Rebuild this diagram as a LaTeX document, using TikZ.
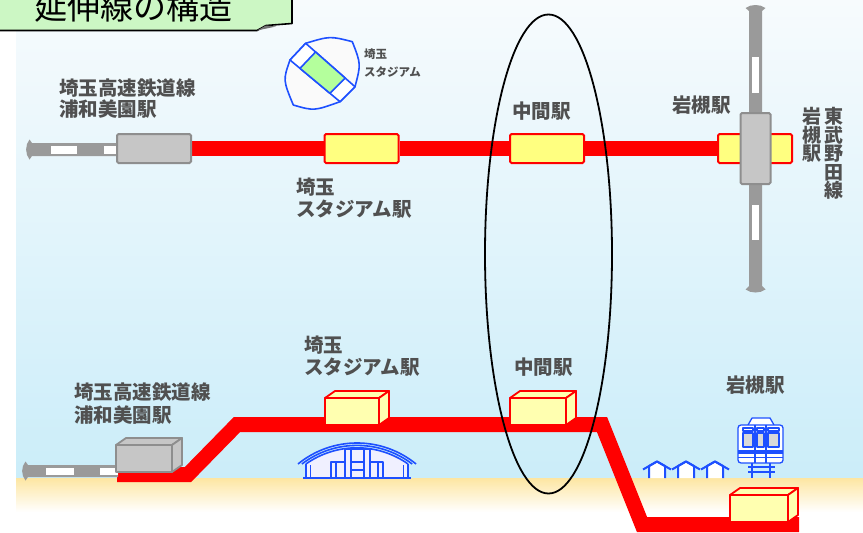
\documentclass[tikz,border=0pt]{standalone}
\usepackage{fontspec}
\newfontfamily\jp{Noto Sans CJK JP}
\usetikzlibrary{calc}
\definecolor{lbl}{HTML}{505050}
\definecolor{railred}{HTML}{FF0000}
\definecolor{sta}{HTML}{FFFF80}
\definecolor{stb}{HTML}{FFFFB0}
\definecolor{trk}{HTML}{9A9A9A}
\definecolor{gbox}{HTML}{C6C6C6}
\definecolor{gedge}{HTML}{8E8E8E}
\definecolor{icon}{HTML}{1E50FF}
\definecolor{skytop}{HTML}{F7FBFD}
\definecolor{skybot}{HTML}{CBEDF9}
\definecolor{sand}{HTML}{FDE6A2}
\definecolor{titlefill}{HTML}{CCF7C4}
\definecolor{field}{HTML}{B4FF9C}
\pgfdeclarelayer{back}
\pgfdeclarelayer{rails}
\pgfsetlayers{back,rails,main}

% an isometric-looking block: style, front-left x, front-top y, front-right x, front-bottom y
\newcommand\blockshape[5]{%
  \filldraw[#1] (#2,#3) rectangle (#4,#5);
  \filldraw[#1] (#2,#3) -- (#2+10,#3-7) -- (#4+10,#3-7) -- (#4,#3) -- cycle;
  \filldraw[#1] (#4,#3) -- (#4+10,#3-7) -- (#4+10,#5-7) -- (#4,#5) -- cycle;}

\begin{document}
\begin{tikzpicture}[x=1pt,y=-1pt,
  lbl/.style={font=\jp\bfseries\fontsize{19.5}{19.5}\selectfont, text=lbl, anchor=base west, inner sep=0pt},
  tinylbl/.style={font=\jp\bfseries\fontsize{11.5}{11.5}\selectfont, text=lbl, anchor=base west, inner sep=0pt},
  vlbl/.style={font=\jp\bfseries\fontsize{19}{18.6}\selectfont, text=lbl, anchor=north, align=center, inner sep=0pt},
  flatsta/.style={draw=railred, fill=sta, line width=2pt, rounded corners=1.5pt, minimum width=74pt, minimum height=29pt, inner sep=0pt},
  flatgray/.style={draw=gedge, fill=gbox, line width=2pt, rounded corners=1.5pt, inner sep=0pt},
  rail/.style={draw=railred, line width=15pt, line join=miter},
  yblock/.style={draw=railred, fill=stb, line width=1.8pt, line join=round},
  gblock/.style={draw=gedge, fill=gbox, line width=1.8pt, line join=round},
  ico/.style={draw=icon, line width=1.6pt, line join=round}]
\useasboundingbox (0,0) rectangle (863,533);

% ---------- sky and ground ----------
\begin{pgfonlayer}{back}
  \fill[white] (0,0) rectangle (863,533);
  \shade[top color=skytop, bottom color=skybot] (16,0) rectangle (863,478);
  \shade[top color=sand, middle color=sand!45!white, bottom color=white] (16,478) rectangle (863,512);
\end{pgfonlayer}

% ---------- title ----------
\filldraw[fill=titlefill, draw=black, line width=1.6pt, line join=round]
  (-5,-5) -- (292,-5) -- (292,23.5) -- (266,25.5) -- (257,30.5) -- (-5,30.5) -- cycle;
\fill[black!55] (257,30.5) -- (266,25.5) -- (276,26.5) -- cycle;
\node[font=\jp\fontsize{33}{33}\selectfont, anchor=base west, inner sep=0pt] (title) at (34,19.5) {延伸線の構造};

% ---------- upper plan ----------
% Saitama Railway track
\fill[trk] (118,143) -- (32,143) -- (29.5,139.5) .. controls (25,145) and (25,154) .. (29.5,159.5) -- (32,156) -- (118,156) -- cycle;
\fill[white] (51,145.5) rectangle (77,153.5);
\fill[white] (104,145.5) rectangle (118,153.5);
% Tobu Noda line track
\fill[trk] (749,120) -- (749,11) -- (745.5,8) .. controls (751,4) and (760,4) .. (765.5,8) -- (762,11)
  -- (762,286) -- (765.5,289.5) .. controls (760,293.5) and (751,293.5) .. (745.5,289.5) -- (749,286) -- cycle;
\fill[white] (752,57) rectangle (759,93);
\fill[white] (752,205) rectangle (759,240);

\node[flatgray, minimum width=74pt, minimum height=29pt] (misonoU) at (154,148.5) {};
\node[flatsta] (stadU) at (361.5,148.5) {};
\node[flatsta] (midU) at (547,148.5) {};
\node[flatsta] (iwaU) at (755,148.5) {};
\node[flatgray, minimum width=30pt, minimum height=71pt] (tobuU) at (755.5,148.5) {};

\begin{pgfonlayer}{rails}
  \draw[rail] (misonoU.east) -- (stadU.west);
  \draw[rail] (stadU.east) -- (midU.west);
  \draw[rail] (midU.east) -- (iwaU.west);
\end{pgfonlayer}

\node[lbl] (saiU1) at (59,95) {埼玉高速鉄道線};
\node[lbl] (saiU2) at (59,116) {浦和美園駅};
\node[lbl] (stadUl1) at (296,194) {埼玉};
\node[lbl] (stadUl2) at (296,216) {スタジアム駅};
\node[lbl] (midUl) at (512,118) {中間駅};
\node[lbl] (iwaUl) at (672,112) {岩槻駅};
\node[vlbl] (tobuL) at (834,107) {東\\武\\野\\田\\線};
\node[vlbl] (iwaV) at (811.5,107) {岩\\槻\\駅};

% stadium seen from above
\coordinate (sA) at (305.7,43.3);
\coordinate (sB) at (352.3,41.7);
\coordinate (sC) at (355,86.7);
\coordinate (sD) at (340,101.7);
\coordinate (sE) at (293.3,105);
\coordinate (sF) at (290,60);
\filldraw[ico, fill=white!96!gray] (sA) .. controls (330,36) .. (sB) .. controls (361,64) .. (sC) -- (sD)
  .. controls (314,111) .. (sE) .. controls (283,80) .. (sF) -- cycle;
\filldraw[ico, fill=white] (sA) -- (sC) -- (sD) -- (sF) -- cycle;
\filldraw[ico, fill=field] ($(sA)!.2!(sC)$) -- ($(sA)!.8!(sC)$) -- ($(sF)!.8!(sD)$) -- ($(sF)!.2!(sD)$) -- cycle;
\node[tinylbl] (stadT1) at (364,58) {埼玉};
\node[tinylbl] (stadT2) at (364,76) {スタジアム};

% ---------- lower section ----------
\fill[trk] (118,465) -- (28,465) -- (25.5,461.5) .. controls (21,467) and (21,475) .. (25.5,480.5) -- (28,477) -- (118,477) -- cycle;
\fill[white] (46,467.5) rectangle (74,475);
\fill[white] (100,467.5) rectangle (118,475);

\coordinate (r0) at (117,474.5);
\coordinate (r1) at (188,474.5);
\coordinate (r2) at (237,424.5);
\coordinate (r3) at (602,424.5);
\coordinate (r4) at (642,524.5);
\coordinate (r5) at (799,524.5);
\begin{pgfonlayer}{rails}
  \draw[rail] (r0) -- (r1) -- (r2) -- (r3) -- (r4) -- (r5);
\end{pgfonlayer}

\blockshape{gblock}{116}{445}{172}{472}
\blockshape{yblock}{325}{398}{379}{425}
\blockshape{yblock}{510}{398}{566}{425}
\blockshape{yblock}{730}{495}{788}{522}

\node[lbl] (saiL1) at (74,399) {埼玉高速鉄道線};
\node[lbl] (saiL2) at (74,422) {浦和美園駅};
\node[lbl] (stadLl1) at (304,352) {埼玉};
\node[lbl] (stadLl2) at (304,374) {スタジアム駅};
\node[lbl] (midLl) at (514,374) {中間駅};
\node[lbl] (iwaLl) at (726,392) {岩槻駅};

% stadium building
\fill[white!94!blue] (305.9,478) -- (305.9,464) arc[start angle=125.2, end angle=54.8, radius=88.6pt] -- (408.1,478) -- cycle;
\draw[ico] (298,464) arc[start angle=129.2, end angle=50.8, radius=93.4pt];
\draw[ico] (301.9,464) arc[start angle=127.3, end angle=52.7, radius=91pt];
\draw[ico] (305.9,464) arc[start angle=125.2, end angle=54.8, radius=88.6pt];
\draw[ico] (305.9,464) -- (305.9,478) (310.5,465) -- (310.5,478);
\draw[ico] (408.1,464) -- (408.1,478) (403.5,465) -- (403.5,478);
\draw[ico] (303,478) -- (411,478);
\draw[ico] (345,449) rectangle (370,478);
\draw[ico] (351,449) -- (351,478) (364,449) -- (364,478) (351,462) -- (364,462) (351,470) -- (364,470);
\draw[ico] (331,462) rectangle (345,478) (336,462) -- (336,478);
\draw[ico] (370,462) rectangle (383,478) (378,462) -- (378,478);

% houses
\foreach \hx in {657,686,715} {
  \filldraw[ico, line width=2pt, fill=white] (\hx-8,478) -- (\hx-8,466) -- (\hx,461.5) -- (\hx+8,466) -- (\hx+8,478);
  \draw[ico, line width=2pt] (\hx-14,469.5) -- (\hx,461.5) -- (\hx+14,469.5);
}

% train front
\begin{scope}[ico, line width=1.3pt]
  \filldraw[fill=white] (748,425) -- (752,418) -- (770,418) -- (774,425);
  \filldraw[fill=white, rounded corners=3pt] (738,425) rectangle (783,463);
  \draw (755,425) -- (755,463) (766,425) -- (766,463);
  \draw (743,428) rectangle (753,431) (757,428) rectangle (764,431) (768,428) rectangle (779,431);
  \filldraw[fill=gray!30] (743,433) rectangle (753,447);
  \filldraw[fill=gray!30] (757,433) rectangle (764,447);
  \filldraw[fill=gray!30] (768,433) rectangle (779,447);
  \fill[icon] (738,449.5) rectangle (783,453.5);
  \draw (738,457.5) -- (783,457.5);
  \draw (752,463) -- (752,478) (770,463) -- (770,478) (748,467) -- (775,467) (748,472) -- (775,472);
\end{scope}

% focus ring around the intermediate station
\draw[line width=1.8pt] (548.5,254) ellipse [x radius=63.5pt, y radius=239.5pt];
\end{tikzpicture}
\end{document}
